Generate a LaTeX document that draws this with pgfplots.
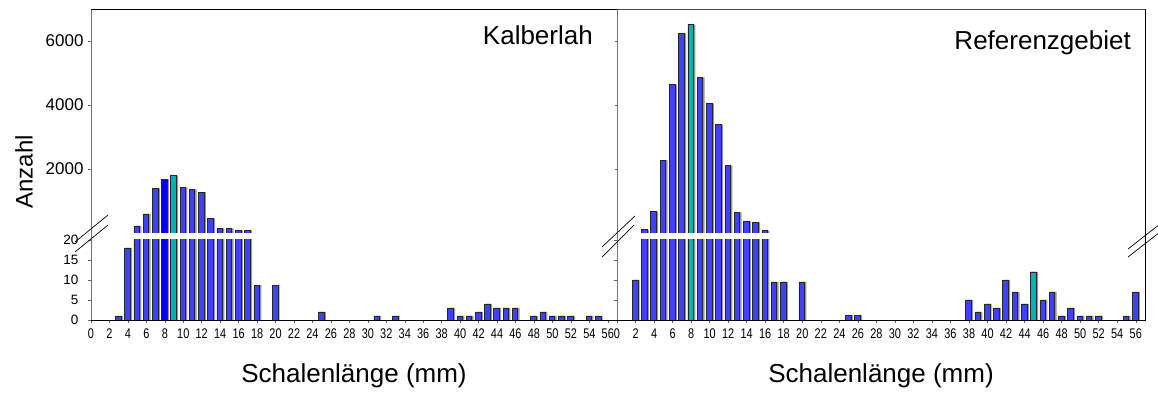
\documentclass[border=0pt]{standalone}
\usepackage{pgfplots}
\pgfplotsset{compat=1.18}
\usepackage{pgfplotstable}
\usepackage{fontspec}
\setmainfont{Liberation Sans}
\newfontfamily\narrowfont[FakeStretch=0.78]{Liberation Sans}
\definecolor{barblue}{RGB}{64,64,255}
\definecolor{bardark}{RGB}{0,0,255}
\definecolor{barcyan}{RGB}{0,180,175}
\definecolor{barshadow}{RGB}{150,150,150}

\pgfplotstableread{
x y
3 1
4 18
5 219
6 594
7 1397
8 1687
9 1791
10 1428
11 1366
12 1281
13 459
14 146
15 146
16 84
17 84
18 8.7
20 8.7
25 2
31 1
33 1
39 3
40 1
41 1
42 2
43 4
44 3
45 3
46 3
48 1
49 2
50 1
51 1
52 1
54 1
55 1
}\leftdata

\pgfplotstableread{
x y
2 10
3 100
4 666
5 2281
6 4635
7 6229
8 6510
9 4864
10 4041
11 3385
12 2104
13 646
14 364
15 333
16 73
17 9.5
18 9.5
20 9.5
25 1.2
26 1.2
38 5
39 2
40 4
41 3
42 10
43 7
44 4
45 12
46 5
47 7
48 1
49 3
50 1
51 1
52 1
55 1
56 7
}\rightdata

\pgfplotsset{
  base/.style={scale only axis, anchor=south west, xmin=0, xmax=57,
    axis line style={draw=none}, clip=true,
    tick align=outside, tick pos=left, major tick length=3pt,
    tick style={black!60, line width=0.5pt},
    scaled y ticks=false,
    /pgf/number format/assume math mode=true,
    /pgf/number format/1000 sep={}},
  lower/.style={base, width=#1, height=80pt, ymin=0, ymax=20,
    ytick={0,5,10,15,20}, xtick={0,2,...,56},
    restrict y to domain*=0:30,
    xticklabel style={font=\narrowfont\fontsize{14}{15}\selectfont, yshift=-5pt, inner sep=1pt},
    yticklabel style={font=\fontsize{13.5}{15}\selectfont, xshift=-6pt}},
  upper/.style={base, width=#1, height=224pt, ymin=0, ymax=7000,
    ytick={2000,4000,6000}, xtick=\empty,
    yticklabel style={font=\fontsize{17}{18}\selectfont, xshift=-1pt},
    restrict y to domain=20.5:100000},
  shad/.style={ybar, bar width=0.6, fill=barshadow, draw=none, bar shift=1.4pt},
  mbar/.style={ybar, bar width=0.6, fill=#1, draw=black!85, line width=0.6pt, bar shift=-0.5pt},
}

\begin{document}
\begin{tikzpicture}[x=1pt,y=1pt]
% ---------- left panel ----------
\begin{axis}[lower=526pt, at={(91pt,76pt)}]
  \addplot[shad] table[x=x,y=y] {\leftdata};
  \addplot[mbar=barblue] table[x=x,y=y] {\leftdata};
  \addplot[mbar=bardark] coordinates {(8,1687)};
  \addplot[mbar=barcyan] coordinates {(9,1791)};
\end{axis}
\begin{axis}[upper=526pt, at={(91pt,163pt)}]
  \addplot[shad] table[x=x,y=y] {\leftdata};
  \addplot[mbar=barblue] table[x=x,y=y] {\leftdata};
  \addplot[mbar=bardark] coordinates {(8,1687)};
  \addplot[mbar=barcyan] coordinates {(9,1791)};
\end{axis}
% ---------- right panel ----------
\begin{axis}[lower=528pt, at={(617pt,76pt)}, yticklabels={}]
  \addplot[shad] table[x=x,y=y] {\rightdata};
  \addplot[mbar=barblue] table[x=x,y=y] {\rightdata};
  \addplot[mbar=barcyan] coordinates {(8,6510) (45,12)};
\end{axis}
\begin{axis}[upper=528pt, at={(617pt,163pt)}, yticklabels={}, major tick length=2pt]
  \addplot[shad] table[x=x,y=y] {\rightdata};
  \addplot[mbar=barblue] table[x=x,y=y] {\rightdata};
  \addplot[mbar=barcyan] coordinates {(8,6510) (45,12)};
\end{axis}
% ---------- frames ----------
\draw[black!55, line width=0.8pt] (91,76) -- (91,387);
\draw[black, line width=0.8pt] (91,387) -- (617,387);
\draw[black, line width=0.8pt] (91,76) -- (617,76);
\draw[black!55, line width=0.8pt] (617.5,76) -- (617.5,387);
\draw[black!70, line width=0.8pt] (617,387) -- (1145,387);
\draw[black, line width=0.8pt] (617,76) -- (1145,76) -- (1145,387);
% ---------- break marks ----------
\draw[line width=0.7pt] (75,154) -- (108,181);
\draw[line width=0.7pt] (75,144) -- (108,171);
\draw[line width=0.7pt] (602,149) -- (635,180);
\draw[line width=0.7pt] (602,139) -- (634,171);
\draw[line width=0.7pt] (1128,147) -- (1160,172);
\draw[line width=0.7pt] (1128,139) -- (1160,164);
% ---------- labels ----------
\node[rotate=90, inner sep=0pt, font=\fontsize{24}{28}\selectfont] at (24,224) {Anzahl};
\node[inner sep=0pt, font=\fontsize{26}{30}\selectfont] at (354,20) {Schalenlänge (mm)};
\node[inner sep=0pt, font=\fontsize{26}{30}\selectfont] at (881,20) {Schalenlänge (mm)};
\node[anchor=east, inner sep=0pt, font=\fontsize{26}{30}\selectfont] at (593,361) {Kalberlah};
\node[anchor=east, inner sep=0pt, font=\fontsize{26}{30}\selectfont] at (1131,353) {Referenzgebiet};
\pgfresetboundingbox
\path[use as bounding box] (0,0) rectangle (1158,396);
\end{tikzpicture}
\end{document}
